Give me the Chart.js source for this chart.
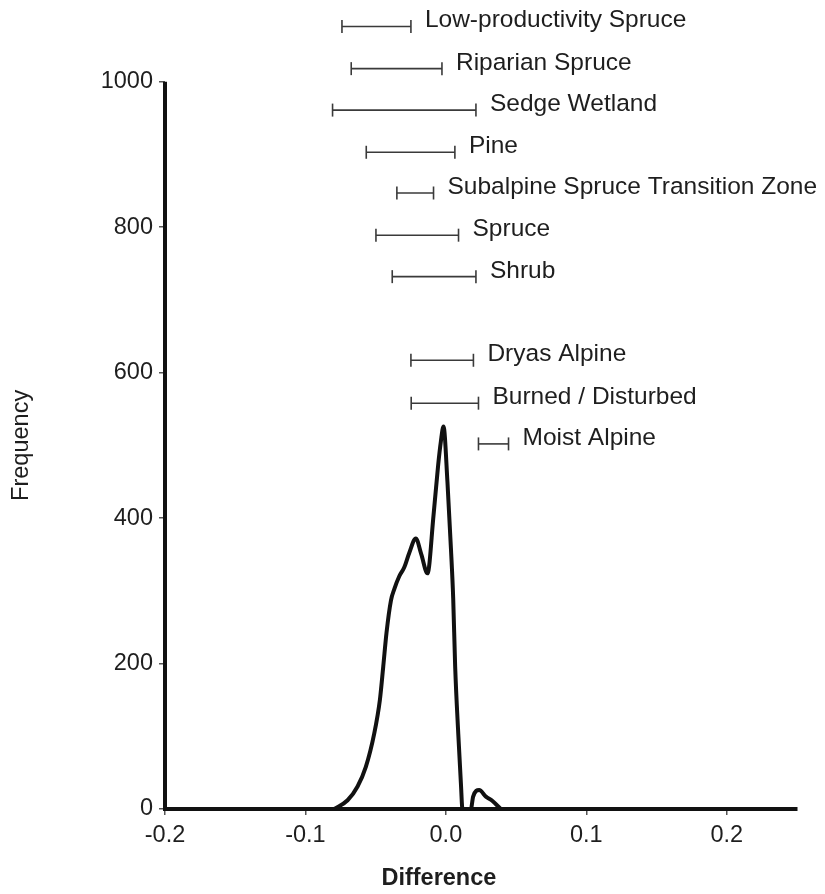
<!DOCTYPE html>
<html><head><meta charset="utf-8">
<script src="https://cdn.jsdelivr.net/npm/chart.js@4.4.1/dist/chart.umd.min.js"></script>
<style>html,body{margin:0;padding:0;background:#fff;} canvas{display:block;}</style>
</head><body>
<canvas id="c" width="825" height="894"></canvas>
<script>
// Density curve (Difference vs Frequency)
const curveX = [-0.0795,-0.0700,-0.0629,-0.0570,-0.0510,-0.0470,-0.0446,-0.0423,-0.0391,-0.0368,-0.0332,-0.0297,-0.0261,-0.0214,-0.0175,-0.0131,-0.0088,-0.0055,-0.0036,-0.0017,0.0011,0.0036,0.0052,0.0066,0.0088,0.0107,0.0118,0.0178,0.0194,0.0237,0.0285,0.0332,0.0390];
const curveY = [0,12,31,58,104,150,196,242,287,302,320,332,352,372,350,324,404,473,505,526,450,358,290,196,104,35,0,0,17,26,17,11,0];

// Habitat ranges
const habitats = ["Low-productivity Spruce","Riparian Spruce","Sedge Wetland","Pine","Subalpine Spruce Transition Zone","Spruce","Shrub","Dryas Alpine","Burned / Disturbed","Moist Alpine"];
const rangeLow  = [-0.0740,-0.0674,-0.0807,-0.0567,-0.0349,-0.0498,-0.0382,-0.0249,-0.0247,0.0232];
const rangeHigh = [-0.0249,-0.0028,0.0214,0.0064,-0.0088,0.0090,0.0214,0.0196,0.0232,0.0446];
const rangeRow  = [1076,1018,961,903,847,789,732,617,558,502];

const xTicks = [-0.2,-0.1,0.0,0.1,0.2];
const yTicks = [0,200,400,600,800,1000];
const xTitle = "Difference";
const yTitle = "Frequency";

const FONT = "'Liberation Sans', Arial, sans-serif";
const TXT = '#1e1e1e';

const datasets = [{
  label: 'Frequency',
  data: curveX.map((x,i)=>({x:x, y:curveY[i]})),
  borderColor: '#111',
  borderWidth: 4,
  pointRadius: 0,
  cubicInterpolationMode: 'monotone',
  fill: false
}];
habitats.forEach((h,i)=>{
  datasets.push({
    label: h,
    data: [{x:rangeLow[i], y:rangeRow[i]},{x:rangeHigh[i], y:rangeRow[i]}],
    borderColor: '#3a3a3a',
    borderWidth: 1.6,
    pointStyle: 'line',
    rotation: 90,
    pointRadius: 6.5,
    pointBorderWidth: 1.6,
    pointBorderColor: '#3a3a3a',
    tension: 0
  });
});

const decor = {
  id: 'decor',
  afterDraw(chart){
    const {ctx, scales:{x, y}} = chart;
    ctx.save();
    // y axis line (0 to 1000)
    ctx.strokeStyle = '#111';
    ctx.lineWidth = 4;
    ctx.lineCap = 'butt';
    ctx.beginPath();
    ctx.moveTo(x.left, y.getPixelForValue(1000));
    ctx.lineTo(x.left, y.getPixelForValue(0) + 2);
    ctx.stroke();
    // range labels
    ctx.fillStyle = TXT;
    ctx.font = "24.5px " + FONT;
    ctx.textAlign = 'left';
    ctx.textBaseline = 'alphabetic';
    habitats.forEach((h,i)=>{
      ctx.fillText(h, x.getPixelForValue(rangeHigh[i]) + 14, y.getPixelForValue(rangeRow[i]) + 1);
    });
    // axis titles
    ctx.font = "bold 23.5px " + FONT;
    ctx.textAlign = 'center';
    ctx.textBaseline = 'middle';
    ctx.fillText(xTitle, x.getPixelForValue(0) - 7, 879);
    ctx.translate(22, (y.getPixelForValue(0) + y.getPixelForValue(1000)) / 2);
    ctx.rotate(-Math.PI/2);
    ctx.font = "23.5px " + FONT;
    ctx.fillText(yTitle, 0, 0);
    ctx.restore();
  }
};

new Chart(document.getElementById('c'), {
  type: 'line',
  data: { datasets },
  options: {
    responsive: false,
    animation: false,
    devicePixelRatio: 1,
    layout: { padding: { top: 9, right: 28, bottom: 0, left: 0 } },
    plugins: { legend: { display: false }, tooltip: { enabled: false } },
    scales: {
      x: {
        type: 'linear', min: -0.2, max: 0.25,
        afterBuildTicks: s => { s.ticks = xTicks.map(v => ({value: v})); },
        afterFit: s => { s.height = 85; s.paddingLeft = 0; s.paddingRight = 0; },
        ticks: { callback: v => Number(v).toFixed(1), font: { family: FONT, size: 23.5 }, color: TXT, padding: 6, maxRotation: 0, autoSkip: false },
        grid: { display: true, drawOnChartArea: false, drawTicks: true, tickLength: 6, lineWidth: 1.5, color: '#555' },
        border: { display: true, color: '#111', width: 4 }
      },
      y: {
        type: 'linear', min: 0, max: 1100,
        afterBuildTicks: s => { s.ticks = yTicks.map(v => ({value: v})); },
        afterFit: s => { s.width = 165; s.paddingTop = 0; s.paddingBottom = 0; },
        ticks: { callback: v => String(v), font: { family: FONT, size: 23.5 }, color: TXT, padding: 6 },
        grid: { display: true, drawOnChartArea: false, drawTicks: true, tickLength: 6, lineWidth: 1.5, color: '#555' },
        border: { display: false }
      }
    }
  },
  plugins: [decor]
});
</script>
</body></html>
